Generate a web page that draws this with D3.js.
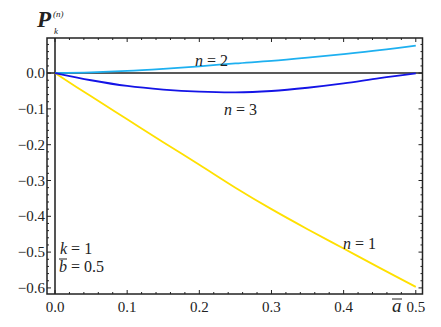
<!DOCTYPE html>
<html>
<head>
<meta charset="utf-8">
<script src="https://cdn.jsdelivr.net/npm/d3@7"></script>
</head>
<body style="margin:0;background:#fff">
<svg id="canvas" width="441" height="327"></svg>
<script>
// values
const aVals = [0, 0.05, 0.1, 0.15, 0.2, 0.25, 0.3, 0.35, 0.4, 0.45, 0.5];
const p1 = [0, -0.065, -0.129, -0.193, -0.256, -0.32, -0.38, -0.436, -0.49, -0.544, -0.597];
const p2 = [0, 0.002, 0.006, 0.012, 0.019, 0.027, 0.034, 0.043, 0.053, 0.064, 0.077];
const p3 = [0, -0.02, -0.036, -0.046, -0.052, -0.054, -0.05, -0.041, -0.029, -0.014, -0.001];
const seriesNames = ["n = 1", "n = 2", "n = 3"];
const seriesColors = ["#ffe000", "#1eb0f0", "#1414e6"];
const xTicks = [0, 0.1, 0.2, 0.3, 0.4, 0.5];
const yTicks = [0, -0.1, -0.2, -0.3, -0.4, -0.5, -0.6];

const svg = d3.select("#canvas");
const x = d3.scaleLinear().domain([-0.0111, 0.5093]).range([47, 422.5]);
const y = d3.scaleLinear().domain([-0.617, 0.098]).range([294, 38]);

// every text goes through here so the serif font sticks
function txt(px, py, size) {
  return svg.append("text").attr("x", px).attr("y", py)
    .style("font-family", '"Liberation Serif"').style("font-size", size + "px").style("fill", "#222");
}

// axis lines through origin
svg.append("line")
  .attr("x1", x(0)).attr("x2", x(0)).attr("y1", y.range()[0]).attr("y2", y.range()[1])
  .attr("stroke", "#555").attr("stroke-width", 2);
svg.append("line")
  .attr("x1", x.range()[0]).attr("x2", x.range()[1]).attr("y1", y(0)).attr("y2", y(0))
  .attr("stroke", "#222").attr("stroke-width", 1.5);

// curves
const line = d3.line().x(d => x(d[0])).y(d => y(d[1])).curve(d3.curveCatmullRom);
[p1, p2, p3].forEach((s, i) => {
  svg.append("path")
    .datum(aVals.map((a, j) => [a, s[j]]))
    .attr("fill", "none")
    .attr("stroke", seriesColors[i])
    .attr("stroke-width", 1.8)
    .attr("d", line);
});

// frame ticks, major + minor, pointing inwards
const minorX = d3.range(0, 0.5001, 0.02);
const minorY = d3.range(-0.6, 0.0901, 0.02);
const fr = svg.append("g").attr("stroke", "#222");
minorX.forEach(v => {
  const big = xTicks.some(t => Math.abs(t - v) < 1e-6);
  const len = big ? 4 : 2;
  fr.append("line").attr("x1", x(v)).attr("x2", x(v)).attr("y1", y.range()[0]).attr("y2", y.range()[0] - len);
  fr.append("line").attr("x1", x(v)).attr("x2", x(v)).attr("y1", y.range()[1]).attr("y2", y.range()[1] + len);
});
minorY.forEach(v => {
  const big = yTicks.some(t => Math.abs(t - v) < 1e-6);
  const len = big ? 4 : 2;
  fr.append("line").attr("x1", x.range()[0]).attr("x2", x.range()[0] + len).attr("y1", y(v)).attr("y2", y(v));
  fr.append("line").attr("x1", x.range()[1]).attr("x2", x.range()[1] - len).attr("y1", y(v)).attr("y2", y(v));
});
svg.append("rect")
  .attr("x", x.range()[0]).attr("y", y.range()[1])
  .attr("width", x.range()[1] - x.range()[0]).attr("height", y.range()[0] - y.range()[1])
  .attr("fill", "none").attr("stroke", "#222").attr("stroke-width", 1.5);

// tick labels
const fmt = d => d3.format(".1f")(d).replace("-", "\u2212");
xTicks.forEach(d => txt(x(d), 312, 15).attr("text-anchor", "middle").text(fmt(d)));
yTicks.forEach(d => txt(45, y(d) + 5, 15).attr("text-anchor", "end").text(fmt(d)));

// axis titles
txt(37, 27, 23).style("font-style", "italic").style("font-weight", "bold").text("P");
txt(53, 17, 9).style("font-style", "italic").text("(n)");
txt(54, 34, 9).style("font-style", "italic").text("k");

txt(392, 312, 19).style("font-style", "italic").text("a");
svg.append("line").attr("x1", 392).attr("x2", 402).attr("y1", 299).attr("y2", 299).attr("stroke", "#222").attr("stroke-width", 1);

// curve labels
const labelPos = [[0.422, -0.49], [0.217, 0.021], [0.257, -0.117]];
labelPos.forEach((p, i) => {
  const t = txt(x(p[0]), y(p[1]), 16).attr("text-anchor", "middle");
  t.append("tspan").style("font-style", "italic").text("n");
  t.append("tspan").text(seriesNames[i].slice(1));
});

// parameter notes
const k = txt(60, 254, 16);
k.append("tspan").style("font-style", "italic").text("k");
k.append("tspan").text(" = 1");
const b = txt(59, 272, 16);
b.append("tspan").style("font-style", "italic").text("b");
b.append("tspan").text(" = 0.5");
svg.append("line").attr("x1", 59).attr("x2", 67).attr("y1", 259).attr("y2", 259).attr("stroke", "#222").attr("stroke-width", 1);
</script>
</body>
</html>
